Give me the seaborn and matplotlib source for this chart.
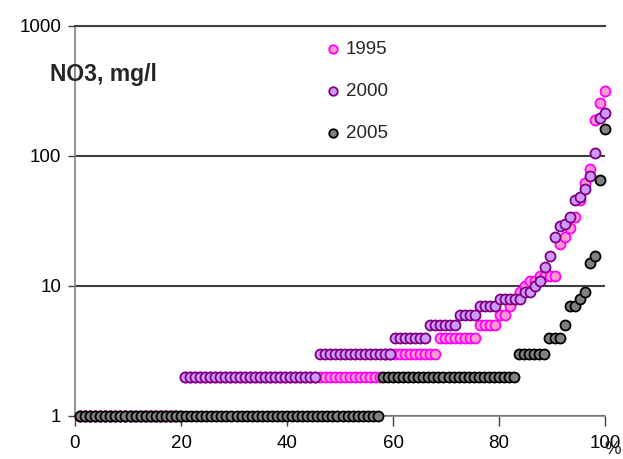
import numpy as np
import pandas as pd
import matplotlib
matplotlib.use("Agg")
import matplotlib.pyplot as plt
import seaborn as sns

# ---- data (sorted NO3 values, run-length form: level and number of samples) ----
years = ["1995", "2000", "2005"]

levels_1995 = [1, 2, 3, 4, 5, 6, 7, 8, 9, 10, 11, 12, 21, 24, 28, 34, 46, 62, 79, 188, 256, 316]
counts_1995 = [21, 40, 11, 8, 4, 2, 1, 1, 1, 1, 2, 4, 1, 1, 1, 1, 1, 1, 1, 1, 1, 1]

levels_2000 = [1, 2, 3, 4, 5, 6, 7, 8, 9, 10, 11, 14, 17, 24, 29, 30, 34, 46, 48, 56, 70, 105, 196, 215]
counts_2000 = [21, 27, 15, 7, 6, 4, 4, 5, 2, 1, 1, 1, 1, 1, 1, 1, 1, 1, 1, 1, 1, 1, 1, 1]

levels_2005 = [1, 2, 3, 4, 5, 7, 8, 9, 15, 17, 65, 160]
counts_2005 = [60, 27, 6, 3, 1, 2, 1, 1, 1, 1, 1, 1]

face_colors = ["#FF99CC", "#CC99FF", "#808080"]
edge_colors = ["#FF00FF", "#800080", "#000000"]

yticks = [1, 10, 100, 1000]
ytick_labels = ["1", "10", "100", "1000"]
xticks = [0, 20, 40, 60, 80, 100]
xtick_labels = ["0", "20", "40", "60", "80", "100"]

frames = []
for yr, lv, ct in zip(years, [levels_1995, levels_2000, levels_2005],
                      [counts_1995, counts_2000, counts_2005]):
    vals = np.repeat(lv, ct)
    n = len(vals)
    pct = np.arange(1, n + 1) / n * 100.0
    frames.append(pd.DataFrame({"pct": pct, "no3": vals, "year": yr}))
df = pd.concat(frames, ignore_index=True)

# ---- figure ----
sns.set_style("white")
plt.rcParams["font.family"] = ["Liberation Sans", "DejaVu Sans"]

W, H = 623, 459
fig = plt.figure(figsize=(W / 100, H / 100), dpi=100)
ax = fig.add_axes([75 / W, 1 - 416 / H, 530 / W, 390 / H])

for yr, fc, ec in zip(years, face_colors, edge_colors):
    sub = df[df["year"] == yr]
    sns.scatterplot(data=sub, x="pct", y="no3", ax=ax, color=fc, edgecolor=ec,
                    linewidth=1.3, s=52, clip_on=False, zorder=3, label=yr)

ax.set_yscale("log")
ax.set_ylim(1, 1000)
ax.set_xlim(0, 100)
ax.set_yticks(yticks)
ax.set_yticklabels(ytick_labels)
ax.set_xticks(xticks)
ax.set_xticklabels(xtick_labels)
ax.yaxis.set_minor_locator(matplotlib.ticker.NullLocator())
ax.set_xlabel("")
ax.set_ylabel("")

ax.yaxis.grid(True, color="#404040", linewidth=1.5)
ax.xaxis.grid(False)
ax.set_axisbelow(True)

for side in ["left", "bottom"]:
    ax.spines[side].set_color("#808080")
    ax.spines[side].set_linewidth(1.2)
ax.spines["top"].set_visible(True)
ax.spines["top"].set_color("#404040")
ax.spines["top"].set_linewidth(1.5)
ax.spines["right"].set_visible(False)

ax.tick_params(axis="x", bottom=True, direction="out", length=7, width=1,
               color="#404040", labelsize=13.5, pad=7, labelcolor="black")
ax.tick_params(axis="y", left=True, direction="out", length=5, width=1,
               color="#404040", labelsize=13.5, pad=5, labelcolor="black")

leg = ax.legend(loc="upper left", bbox_to_anchor=(316 / W, 1 - 33 / H),
                bbox_transform=fig.transFigure, frameon=False, fontsize=13.5,
                labelspacing=1.33, handletextpad=0.2, markerscale=0.85,
                borderaxespad=0, handlelength=1.0)

fig.text(50 / W, 1 - 75 / H, "NO3, mg/l", fontsize=16.5, fontweight="bold",
         ha="left", va="center")
fig.text(613 / W, 1 - 449 / H, "%", fontsize=13.5, ha="center", va="center")

fig.savefig("out.png", dpi=100)
